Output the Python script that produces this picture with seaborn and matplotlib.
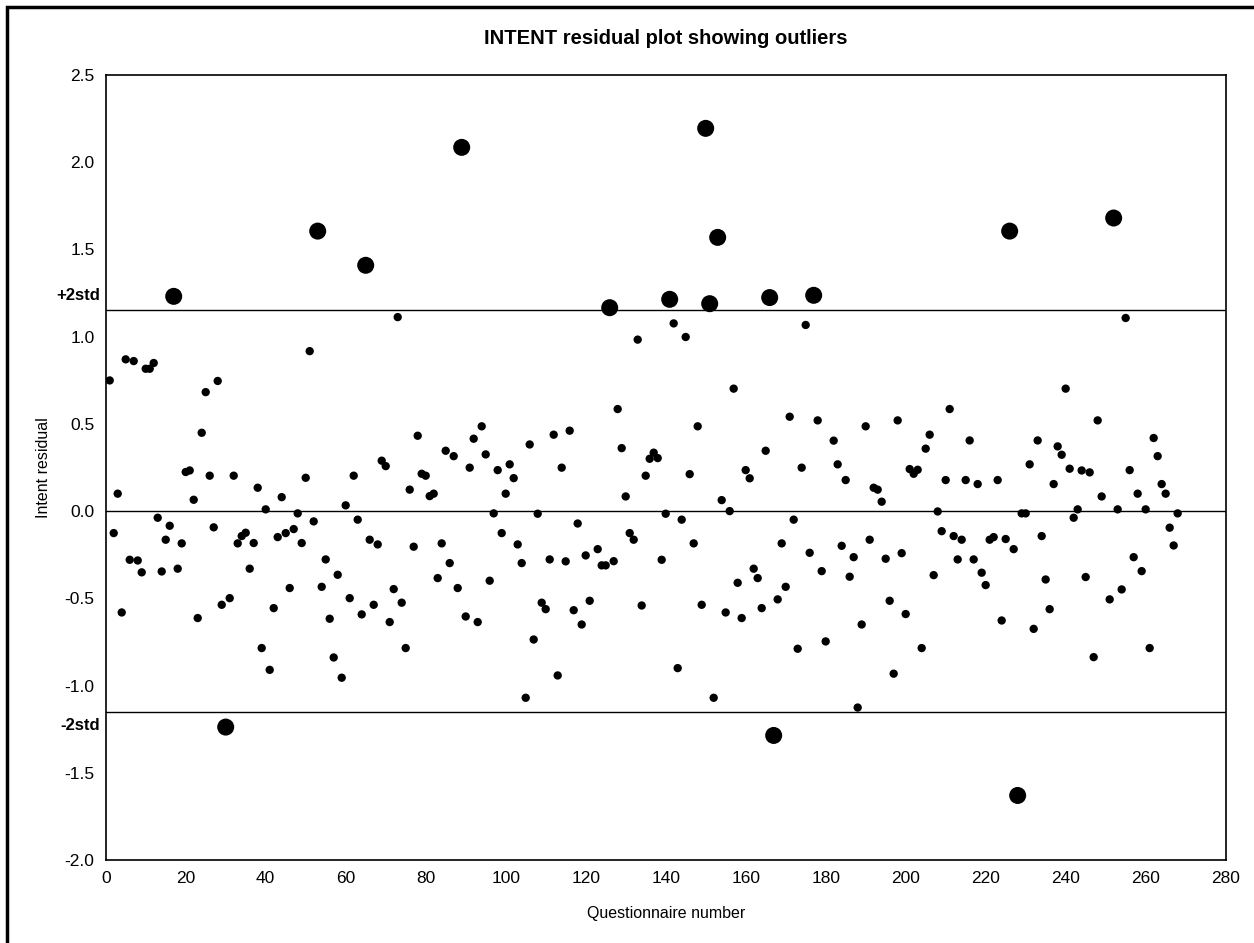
import numpy as np
import pandas as pd
from matplotlib import pyplot as plt
from matplotlib.patches import Rectangle
from matplotlib.ticker import MultipleLocator, FormatStrFormatter
import seaborn as sns

# residuals, questionnaire 1..268 (nan = no point seen)
residual = [
    0.749, -0.126, 0.100, -0.581, 0.870, -0.279, 0.860, -0.283, -0.351, 0.816,
    0.816, 0.849, -0.038, -0.346, -0.164, -0.084, 1.231, -0.330, -0.185, 0.224,
    0.233, 0.065, -0.613, 0.449, 0.682, 0.203, -0.093, 0.746, -0.537, -1.238,
    -0.499, 0.203, -0.185, -0.143, -0.124, -0.330, -0.183, 0.134, -0.785, 0.010,
    -0.910, -0.556, -0.149, 0.080, -0.126, -0.441, -0.103, -0.013, -0.183, 0.191,
    0.917, -0.059, 1.605, -0.434, -0.277, -0.617, -0.839, -0.365, -0.955, 0.033,
    -0.499, 0.203, -0.049, -0.592, 1.409, -0.164, -0.537, -0.191, 0.289, 0.258,
    -0.636, -0.447, 1.112, -0.525, -0.785, 0.123, -0.204, 0.432, 0.214, 0.203,
    0.086, 0.100, -0.384, -0.185, 0.346, -0.298, 0.315, -0.441, 2.085, -0.604,
    0.249, 0.415, -0.636, 0.486, 0.325, -0.399, -0.013, 0.235, -0.126, 0.100,
    0.268, 0.189, -0.191, -0.298, -1.070, 0.382, -0.736, -0.015, -0.525, -0.562,
    -0.277, 0.438, -0.942, 0.249, -0.288, 0.461, -0.568, -0.071, -0.650, -0.254,
    -0.514, np.nan, -0.218, -0.311, -0.311, 1.166, -0.287, 0.585, 0.361, 0.084,
    -0.126, -0.164, 0.983, -0.541, 0.203, 0.300, 0.335, 0.304, -0.279, -0.015,
    1.214, 1.076, -0.900, -0.049, 0.998, 0.212, -0.185, 0.486, -0.537, 2.194,
    1.189, -1.070, 1.569, 0.063, -0.581, 0.000, 0.702, -0.411, -0.613, 0.235,
    0.188, -0.330, -0.384, -0.556, 0.346, 1.224, -1.286, -0.506, -0.185, -0.434,
    0.541, -0.049, -0.789, 0.249, 1.067, -0.239, 1.237, 0.520, -0.344, -0.747,
    np.nan, 0.404, 0.268, -0.199, 0.178, -0.376, -0.264, -1.126, -0.650, 0.486,
    -0.164, 0.134, 0.123, 0.054, -0.273, -0.514, -0.932, 0.520, -0.241, -0.590,
    0.241, 0.214, 0.237, -0.785, 0.358, 0.438, -0.367, -0.002, -0.115, 0.178,
    0.585, -0.143, -0.277, -0.164, 0.178, 0.405, -0.277, 0.155, -0.353, -0.424,
    -0.164, -0.149, 0.178, -0.627, -0.160, 1.605, -0.218, -1.630, -0.013, -0.013,
    0.268, -0.675, 0.405, -0.143, -0.392, -0.562, 0.155, 0.371, 0.323, 0.702,
    0.243, -0.038, 0.010, 0.233, -0.378, 0.222, -0.837, 0.520, 0.084, np.nan,
    -0.506, 1.680, 0.010, -0.449, 1.107, 0.235, -0.264, 0.100, -0.344, 0.010,
    -0.785, 0.419, 0.315, 0.155, 0.100, -0.095, -0.197, -0.013,
]
questionnaire = list(range(1, len(residual) + 1))
std_limit = 1.152  # the +-2std lines

sns.set_style("white")
plt.rcParams["font.family"] = ["Liberation Sans", "DejaVu Sans"]
plt.rcParams["text.color"] = "black"
plt.rcParams["axes.labelcolor"] = "black"

df = pd.DataFrame({"q": questionnaire, "res": residual}).dropna()
df["kind"] = np.where(df["res"].abs() > std_limit, "outlier", "normal")

fig = plt.figure(figsize=(12.54, 9.43), dpi=100)
ax = fig.add_axes([0.0843, 0.088, 0.8931, 0.8325])

ax.axhline(0, color="black", lw=1, zorder=1)
ax.axhline(std_limit, color="black", lw=1, zorder=1)
ax.axhline(-std_limit, color="black", lw=1, zorder=1)

sns.scatterplot(data=df, x="q", y="res", size="kind",
    sizes={"normal": 36, "outlier": 150}, color="black",
    linewidth=0, legend=False, ax=ax, zorder=3)

ax.set_xlim(0, 280)
ax.set_ylim(-2.0, 2.5)
ax.xaxis.set_major_locator(MultipleLocator(20))
ax.xaxis.set_minor_locator(MultipleLocator(4))
ax.yaxis.set_major_locator(MultipleLocator(0.5))
ax.yaxis.set_minor_locator(MultipleLocator(0.1))
ax.yaxis.set_major_formatter(FormatStrFormatter("%.1f"))
ax.tick_params(which="both", direction="in", top=False, right=False,
    labelsize=12.5, width=1, colors="black")
ax.tick_params(which="major", length=6, pad=8)
ax.tick_params(which="minor", length=3)
for s in ax.spines.values():
    s.set_color("black")
    s.set_linewidth(1.2)

ax.set_xlabel("Questionnaire number", fontsize=11.5, labelpad=14)
ax.set_ylabel("Intent residual", fontsize=11.5, labelpad=10)
ax.set_title("INTENT residual plot showing outliers", fontsize=14.5,
    fontweight="bold", pad=22)

fig.text(100 / 1254, 1 - 296 / 943, "+2std", ha="right", va="center",
    fontsize=12, fontweight="bold")
fig.text(100 / 1254, 1 - 726 / 943, "-2std", ha="right", va="center",
    fontsize=12, fontweight="bold")

# chart area frame, cut off at the right and bottom like the original
fig.patches.append(Rectangle((7 / 1254, -0.05), 1.1, 1.05 - 7 / 943,
    transform=fig.transFigure, fill=False, edgecolor="black", lw=2.5))

plt.savefig("out.png", dpi=100)
